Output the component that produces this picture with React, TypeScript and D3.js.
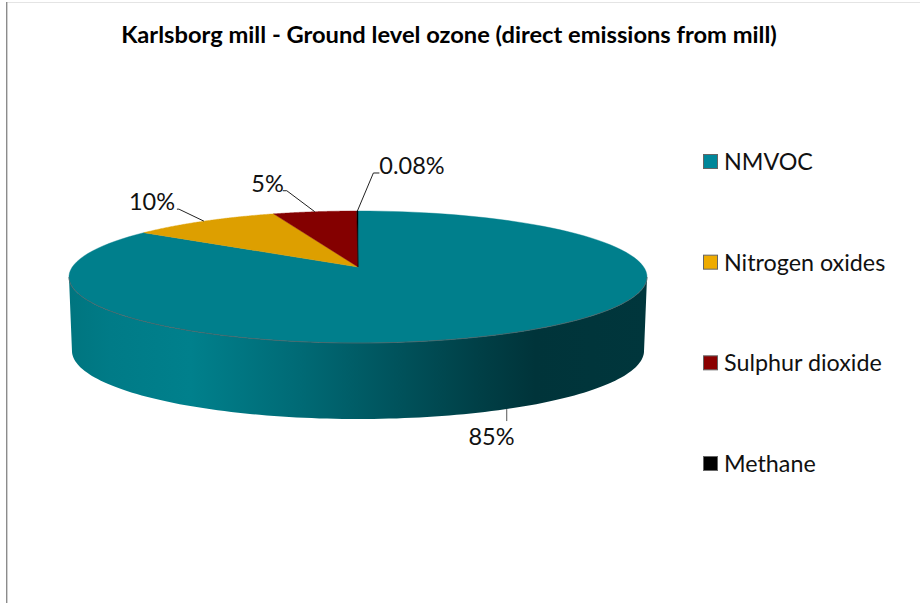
import React from "react";
import * as d3 from "d3";

const categories = ["NMVOC", "Nitrogen oxides", "Sulphur dioxide", "Methane"];
const shares = [84.82, 9.7, 5.4, 0.08];
const shareLabels = ["85%", "10%", "5%", "0.08%"];
const sliceColors = ["#007f8c", "#dd9f00", "#840000", "#000000"];
const swatchColors = ["#00879a", "#eeab00", "#8a0000", "#000000"];
const title = "Karlsborg mill - Ground level ozone (direct emissions from mill)";

const FONT = "Lato, 'Open Sans', sans-serif";
const CX = 358;

// perspective projection of a point on a disc of the pie
type Disc = { y0: number; a: number; b: number; k: number };
const topDisc: Disc = { y0: 267, a: 64.5, b: 285.7, k: 0.1515 };
const bottomDisc: Disc = { y0: 344, a: 67.5, b: 284.6, k: 0.1 };

const project = (angle: number, disc: Disc): [number, number] => {
  const u = Math.sin(angle);
  const v = Math.cos(angle);
  const d = 1 + disc.k * v;
  return [CX + (disc.b * u) / d, disc.y0 - (disc.a * v) / d];
};

const pieAngles = d3.pie<number>().sort(null).value((d) => d)(shares);
const line = d3.line();
const sampleArc = (a0: number, a1: number, disc: Disc) =>
  d3.range(0, 121).map((i) => project(a0 + ((a1 - a0) * i) / 120, disc));

const extremeRight = (disc: Disc) => Math.PI / 2 + Math.asin(disc.k);
const extremeLeft = (disc: Disc) => Math.PI * 2 - extremeRight(disc);

const rimFront = sampleArc(extremeRight(topDisc), extremeLeft(topDisc), topDisc);
const wallPoints = [
  ...rimFront,
  ...sampleArc(extremeRight(bottomDisc), extremeLeft(bottomDisc), bottomDisc).reverse(),
];

const legendY = d3.scalePoint<string>().domain(categories).range([162, 464]);
const xGrad = d3.scaleLinear().domain([69, 647]).range([0, 100]);

const wallStops: [number, string][] = [
  [69, "#00757f"],
  [110, "#007b87"],
  [190, "#00808c"],
  [300, "#006a75"],
  [400, "#00525b"],
  [480, "#003f46"],
  [535, "#00343a"],
  [647, "#00363c"],
];

// angle nudge of the anchor, elbow and end of each leader relative to the rim anchor; text anchor point
const leaders = [
  { nudge: -0.02, elbow: [0, 12], end: [0, 12], tx: 491.5, ty: 445 },
  { nudge: 0, elbow: [-25, -12], end: [-27, -12], tx: 152, ty: 210 },
  { nudge: 0, elbow: [-28, -21], end: [-32, -21], tx: 267.5, ty: 192 },
  { nudge: 0, elbow: [16, -38], end: [22, -38], tx: 412, ty: 174 },
];

export default function App() {
  return (
    <svg
      width={920}
      height={603}
      style={{ position: "absolute", left: 0, top: 0, display: "block", background: "#fff" }}
      fontFamily={FONT}
    >
      <defs>
        <linearGradient id="wall" x1="69" x2="647" y1="0" y2="0" gradientUnits="userSpaceOnUse">
          {wallStops.map(([x, c]) => (
            <stop key={x} offset={`${xGrad(x)}%`} stopColor={c} />
          ))}
        </linearGradient>
      </defs>
      <rect x={7} y={2} width={913} height={1} fill="#e4e4e4" />
      <rect x={6} y={2} width={1.4} height={601} fill="#8c8c8c" />

      <text x={449} y={43} textAnchor="middle" fontSize={23.7} fontWeight={700} fill="#000">
        {title}
      </text>

      <path d={line(wallPoints) + "Z"} fill="url(#wall)" />
      {pieAngles.map((s, i) => {
        const rim = sampleArc(s.startAngle, s.endAngle, topDisc);
        return (
          <path
            key={categories[i]}
            d={line([[CX, topDisc.y0], ...rim]) + "Z"}
            fill={sliceColors[i]}
            stroke={sliceColors[i]}
            strokeWidth={0.4}
          />
        );
      })}
      <path d={line(rimFront) ?? ""} fill="none" stroke="#4f5f62" strokeWidth={0.8} />

      {pieAngles.map((s, i) => {
        const l = leaders[i];
        const mid = (s.startAngle + s.endAngle) / 2 + l.nudge;
        const onWall = i === 0;
        const a = onWall ? project(mid, bottomDisc) : project(mid, topDisc);
        return (
          <g key={shareLabels[i]}>
            <path
              d={
                line([
                  a,
                  [a[0] + l.elbow[0], a[1] + l.elbow[1]],
                  [a[0] + l.end[0], a[1] + l.end[1]],
                ]) ?? ""
              }
              fill="none"
              stroke={onWall ? "#555" : "#222"}
              strokeWidth={1}
            />
            <text x={l.tx} y={l.ty} textAnchor="middle" fontSize={23.5} fill="#111">
              {shareLabels[i]}
            </text>
          </g>
        );
      })}

      {categories.map((c, i) => {
        const y = legendY(c) as number;
        return (
          <g key={c}>
            <rect
              x={703.5}
              y={y - 7.5}
              width={14}
              height={14}
              fill={swatchColors[i]}
              stroke="#666"
              strokeWidth={1}
            />
            <text x={724} y={y + 8} fontSize={23.3} fill="#111">
              {c}
            </text>
          </g>
        );
      })}
    </svg>
  );
}
